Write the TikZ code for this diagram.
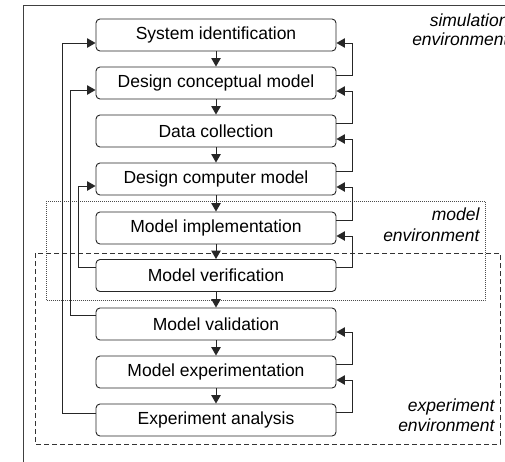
\documentclass[tikz,border=0pt]{standalone}
\usepackage{fontspec}
\setmainfont{Liberation Sans}
\usetikzlibrary{arrows.meta,calc}

\begin{document}
\begin{tikzpicture}[x=1pt,y=-1pt,
  font=\fontsize{17.5}{20}\selectfont,
  line width=0.9pt,
  stepbox/.style={draw=black!85, fill=white, rounded corners=4pt,
    minimum width=240pt, minimum height=32pt, inner sep=0pt},
  arr/.style={draw=black!85, -{Triangle[length=8.5pt,width=9.5pt]}},
  envlabel/.style={anchor=base east, inner sep=0pt, font=\fontsize{17.5}{20}\selectfont\itshape},
]
\useasboundingbox (0,0) rectangle (505,461);
\clip (0,0) rectangle (505,461);

% surrounding simulation environment
\draw[black!75] (23,5) rectangle (520,480);

% model and experiment environments
\draw[black!70, line width=0.8pt, dash pattern=on 1pt off 1pt] (46,201) rectangle (485,300.5);
\draw[black!80, dash pattern=on 5pt off 3pt] (35,253) rectangle (500,444);

% process steps
\node[stepbox] (b1) at (216,35)  {System identification};
\node[stepbox] (b2) at (216,83)  {Design conceptual model};
\node[stepbox] (b3) at (216,131) {Data collection};
\node[stepbox] (b4) at (216,179) {Design computer model};
\node[stepbox] (b5) at (216,228) {Model implementation};
\node[stepbox] (b6) at (216,275.5) {Model verification};
\node[stepbox] (b7) at (216,324) {Model validation};
\node[stepbox] (b8) at (216,372) {Model experimentation};
\node[stepbox] (b9) at (216,420) {Experiment analysis};

% forward flow
\foreach \a/\b in {b1/b2,b2/b3,b3/b4,b4/b5,b5/b6,b6/b7,b7/b8,b8/b9}
  \draw[arr] (\a) -- (\b);

% short feedback loops on the right
\foreach \a/\b in {b2/b1,b3/b2,b4/b3,b5/b4,b6/b5,b8/b7,b9/b8}
  \draw[arr] ($(\a.east)+(0,-8)$) -- ++(16,0) |- ($(\b.east)+(0,8)$);

% long feedback loops on the left
\draw[arr] ($(b9.west)+(0,-7)$) -- ++(-33,0) |- ($(b1.west)+(0,8)$);
\draw[arr] ($(b7.west)+(0,-9)$) -- ++(-25,0) |- ($(b2.west)+(0,7)$);
\draw[arr] ($(b6.west)+(0,-8)$) -- ++(-17,0) |- ($(b4.west)+(0,7)$);

% environment labels
\node[envlabel] (sim1) at (509,26.5) {simulation};
\node[envlabel] (sim2) at (509,45) {environment};
\node[envlabel] (mod1) at (480,220.7) {model};
\node[envlabel] (mod2) at (480,241) {environment};
\node[envlabel] (exp1) at (495,411.7) {experiment};
\node[envlabel] (exp2) at (495,431.7) {environment};
\end{tikzpicture}
\end{document}
